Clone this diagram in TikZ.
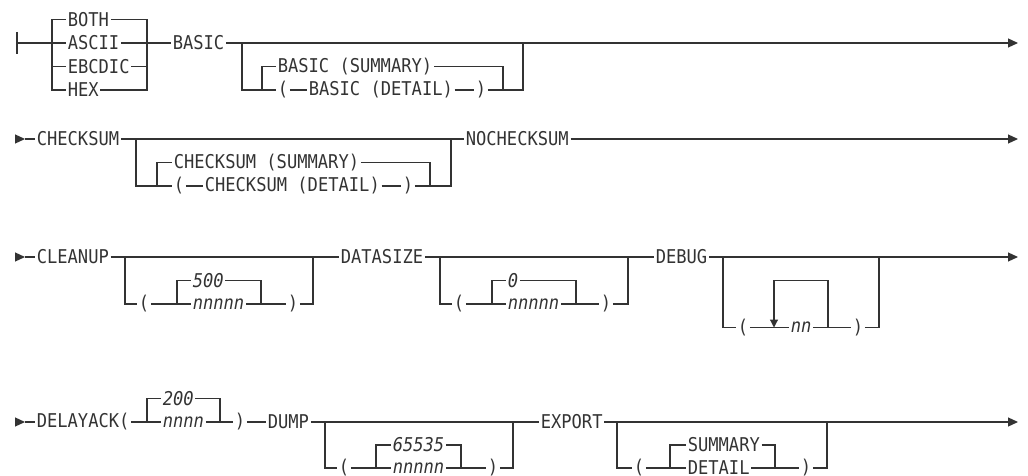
\documentclass[tikz,border=0pt]{standalone}
\usepackage{fontspec}
\setmonofont[FakeStretch=0.9]{DejaVu Sans Mono}
\usetikzlibrary{arrows.meta}
\definecolor{railgray}{HTML}{333333}

\begin{document}
\begin{tikzpicture}[x=1pt, y=-1pt, line width=1.2pt, color=railgray,
  font=\ttfamily\fontsize{19}{22}\selectfont]

\tikzstyle{kw}       = [anchor=west, inner xsep=1.2pt, inner ysep=0pt]
\tikzstyle{var}      = [kw, font=\ttfamily\itshape\fontsize{19}{22}\selectfont]
\tikzstyle{starttip} = [-{Triangle[length=10pt, width=9pt]}]
\tikzstyle{endtip}   = [-{Triangle[length=10pt, width=9pt]}]
\tikzstyle{looptip}  = [-{Triangle[length=8pt, width=8pt]}]

\useasboundingbox (0,0) rectangle (1028,476);

% ── Row 1: data format and BASIC ─────────────────────
\coordinate (bar)    at (17,43);
\coordinate (bartop) at (17,32);
\coordinate (barbot) at (17,54);
\coordinate (fmtL)   at (52,43);
\coordinate (fmtR)   at (147,43);
\node[kw] (both)   at (66,19.5) {BOTH};
\node[kw] (ascii)  at (66,43)   {ASCII};
\node[kw] (ebcdic) at (66,66.5) {EBCDIC};
\node[kw] (hex)    at (66,90)   {HEX};
\node[kw] (basic)  at (171,43)  {BASIC};
\coordinate (basL)    at (242,43);
\coordinate (basR)    at (523,43);
\coordinate (bassubL) at (262,90);
\coordinate (bassubR) at (503,90);
\node[kw] (bassum)   at (276,66.5) {BASIC (SUMMARY)};
\node[kw] (basopen)  at (276,90)   {(};
\node[kw] (basdet)   at (307,90)   {BASIC (DETAIL)};
\node[kw] (basclose) at (474,90)   {)};
\coordinate (end1) at (1018,43);

\draw (bartop) -- (barbot);
\draw (bar) -- (fmtL) -- (ascii.west);
\draw (fmtL) |- (both.west);
\draw (fmtL) |- (ebcdic.west);
\draw (fmtL) |- (hex.west);
\draw (both.east)   -| (fmtR);
\draw (ebcdic.east) -| (fmtR);
\draw (hex.east)    -| (fmtR);
\draw (ascii.east)  -- (fmtR) -- (basic.west);
\draw[endtip] (basic.east) -- (end1);
\draw (basL) |- (bassubL) -- (basopen.west);
\draw (bassubL) |- (bassum.west);
\draw (basopen.east) -- (basdet.west);
\draw (basdet.east) -- (basclose.west);
\draw (basclose.east) -- (bassubR) -| (basR);
\draw (bassum.east) -| (bassubR);

% ── Row 2: CHECKSUM / NOCHECKSUM ─────────────────────
\coordinate (go2)  at (15,139);
\coordinate (tip2) at (25,139);
\node[kw] (cks) at (35,139) {CHECKSUM};
\coordinate (cksL)    at (136,139);
\coordinate (cksR)    at (451,139);
\coordinate (ckssubL) at (157,186);
\coordinate (ckssubR) at (430,186);
\node[kw] (ckssum)   at (172,162.5) {CHECKSUM (SUMMARY)};
\node[kw] (cksopen)  at (172,186)   {(};
\node[kw] (cksdet)   at (203,186)   {CHECKSUM (DETAIL)};
\node[kw] (cksclose) at (401,186)   {)};
\node[kw] (nocks)    at (464,139)   {NOCHECKSUM};
\coordinate (end2) at (1018,139);

\draw[starttip] (go2) -- (tip2);
\draw (tip2) -- (cks.west);
\draw (cks.east) -- (nocks.west);
\draw[endtip] (nocks.east) -- (end2);
\draw (cksL) |- (ckssubL) -- (cksopen.west);
\draw (ckssubL) |- (ckssum.west);
\draw (cksopen.east) -- (cksdet.west);
\draw (cksdet.east) -- (cksclose.west);
\draw (cksclose.east) -- (ckssubR) -| (cksR);
\draw (ckssum.east) -| (ckssubR);

% ── Row 3: CLEANUP, DATASIZE, DEBUG ──────────────────
\coordinate (go3)  at (15,257);
\coordinate (tip3) at (25,257);
\node[kw] (cln) at (35,257) {CLEANUP};
\coordinate (clnL)    at (125,257);
\coordinate (clnR)    at (313,257);
\coordinate (clnsubL) at (177,304);
\coordinate (clnsubR) at (261,304);
\node[kw]  (clnopen)  at (137,304)   {(};
\node[var] (cln500)   at (191,280.5) {500};
\node[var] (clnnum)   at (191,304)   {nnnnn};
\node[kw]  (clnclose) at (286,304)   {)};

\node[kw] (dsz) at (339,257) {DATASIZE};
\coordinate (dszL)    at (440,257);
\coordinate (dszR)    at (628,257);
\coordinate (dszsubL) at (492,304);
\coordinate (dszsubR) at (576,304);
\node[kw]  (dszopen)  at (452,304)   {(};
\node[var] (dszzero)  at (506,280.5) {0};
\node[var] (dsznum)   at (506,304)   {nnnnn};
\node[kw]  (dszclose) at (599,304)   {)};

\node[kw] (dbg) at (654,257) {DEBUG};
\coordinate (dbgL)     at (723,257);
\coordinate (dbgR)     at (879,257);
\coordinate (dbgloopL) at (774,327.5);
\coordinate (dbgloopR) at (828,327.5);
\coordinate (dbgtopL)  at (774,280.5);
\coordinate (dbgtopR)  at (828,280.5);
\node[kw]  (dbgopen)  at (736,327.5) {(};
\node[var] (dbgnum)   at (789,327.5) {nn};
\node[kw]  (dbgclose) at (851,327.5) {)};
\coordinate (end3) at (1018,257);

\draw[starttip] (go3) -- (tip3);
\draw (tip3) -- (cln.west);
\draw (cln.east) -- (dsz.west);
\draw (dsz.east) -- (dbg.west);
\draw[endtip] (dbg.east) -- (end3);
% CLEANUP value
\draw (clnL) |- (clnopen.west);
\draw (clnopen.east) -- (clnnum.west);
\draw (clnsubL) |- (cln500.west);
\draw (cln500.east) -| (clnsubR);
\draw (clnnum.east) -- (clnclose.west);
\draw (clnclose.east) -| (clnR);
% DATASIZE value
\draw (dszL) |- (dszopen.west);
\draw (dszopen.east) -- (dsznum.west);
\draw (dszsubL) |- (dszzero.west);
\draw (dszzero.east) -| (dszsubR);
\draw (dsznum.east) -- (dszclose.west);
\draw (dszclose.east) -| (dszR);
% DEBUG repeat loop
\draw (dbgL) |- (dbgopen.west);
\draw (dbgopen.east) -- (dbgnum.west);
\draw (dbgnum.east) -- (dbgclose.west);
\draw (dbgclose.east) -| (dbgR);
\draw[looptip] (dbgloopR) -- (dbgtopR) -- (dbgtopL) -- (dbgloopL);

% ── Row 4: DELAYACK, DUMP, EXPORT ────────────────────
\coordinate (go4)  at (15,422);
\coordinate (tip4) at (25,422);
\node[kw] (dly) at (35,422) {DELAYACK(};
\coordinate (dlysubL) at (147,422);
\coordinate (dlysubR) at (220,422);
\node[var] (dly200)   at (161,398.5) {200};
\node[var] (dlynum)   at (161,422)   {nnnn};
\node[kw]  (dlyclose) at (233,422)   {)};

\node[kw] (dump) at (266,422) {DUMP};
\coordinate (dmpL)    at (325,422);
\coordinate (dmpR)    at (513,422);
\coordinate (dmpsubL) at (376,468);
\coordinate (dmpsubR) at (461,468);
\node[kw]  (dmpopen)  at (337,468)   {(};
\node[var] (dmptop)   at (391,445)   {65535};
\node[var] (dmpnum)   at (391,468)   {nnnnn};
\node[kw]  (dmpclose) at (486,468)   {)};

\node[kw] (export) at (539,422) {EXPORT};
\coordinate (expL)    at (617,422);
\coordinate (expR)    at (827,422);
\coordinate (expsubL) at (670,468);
\coordinate (expsubR) at (775,468);
\node[kw] (expopen)  at (632,468) {(};
\node[kw] (expsum)   at (686,445) {SUMMARY};
\node[kw] (expdet)   at (686,468) {DETAIL};
\node[kw] (expclose) at (799,468) {)};
\coordinate (end4) at (1018,422);

\draw[starttip] (go4) -- (tip4);
\draw (tip4) -- (dly.west);
\draw (dly.east) -- (dlynum.west);
\draw (dlysubL) |- (dly200.west);
\draw (dly200.east) -| (dlysubR);
\draw (dlynum.east) -- (dlyclose.west);
\draw (dlyclose.east) -- (dump.west);
\draw (dump.east) -- (export.west);
\draw[endtip] (export.east) -- (end4);
% DUMP value
\draw (dmpL) |- (dmpopen.west);
\draw (dmpopen.east) -- (dmpnum.west);
\draw (dmpsubL) |- (dmptop.west);
\draw (dmptop.east) -| (dmpsubR);
\draw (dmpnum.east) -- (dmpclose.west);
\draw (dmpclose.east) -| (dmpR);
% EXPORT value
\draw (expL) |- (expopen.west);
\draw (expopen.east) -- (expdet.west);
\draw (expsubL) |- (expsum.west);
\draw (expsum.east) -| (expsubR);
\draw (expdet.east) -- (expclose.west);
\draw (expclose.east) -| (expR);

\end{tikzpicture}
\end{document}
